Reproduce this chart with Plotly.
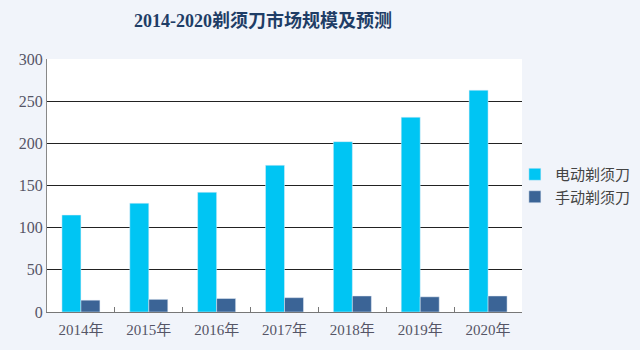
import plotly.graph_objects as go

years = ["2014年", "2015年", "2016年", "2017年", "2018年", "2019年", "2020年"]
electric = [115, 129, 142, 174, 202, 231, 263]
manual = [14, 15, 16, 17, 19, 18, 19]
series_names = ["电动剃须刀", "手动剃须刀"]
colors = ["#00c5f3", "#3b6496"]

fig = go.Figure()
fig.add_trace(go.Bar(x=years, y=electric, name=series_names[0], marker_color=colors[0]))
fig.add_trace(go.Bar(x=years, y=manual, name=series_names[1], marker_color=colors[1]))

serif = "Liberation Serif, Noto Sans CJK SC, serif"
fig.update_layout(
    width=640, height=350,
    margin=dict(l=47, r=118, t=59, b=38, autoexpand=False),
    paper_bgcolor="#f1f4fa",
    plot_bgcolor="#ffffff",
    barmode="group",
    bargap=0.44,
    bargroupgap=0,
    title=dict(text="2014-2020剃须刀市场规模及预测", x=0.411, xanchor="center", y=0.94, yanchor="middle",
               font=dict(family=serif, size=18, color="#1f3d66", weight="bold")),
    legend=dict(x=0.985, xanchor="left", y=0.50, yanchor="middle", bgcolor="rgba(0,0,0,0)",
                font=dict(family="Noto Sans CJK SC", size=15, color="#444444"),
                itemwidth=30, tracegroupgap=0),
    xaxis=dict(showgrid=False, showline=True, linecolor="#777777", linewidth=1,
               ticks="inside", ticklen=5, tickcolor="#777777", tickson="boundaries",
               ticklabelstandoff=4,
               tickfont=dict(family=serif, size=15, color="#555566")),
    yaxis=dict(range=[0, 300], dtick=50, showgrid=True, gridcolor="#222222", gridwidth=1,
               showline=True, linecolor="#888888", linewidth=1, zeroline=False,
               ticks="", tickfont=dict(family=serif, size=16, color="#555566")),
)
fig.write_html("out.html")
